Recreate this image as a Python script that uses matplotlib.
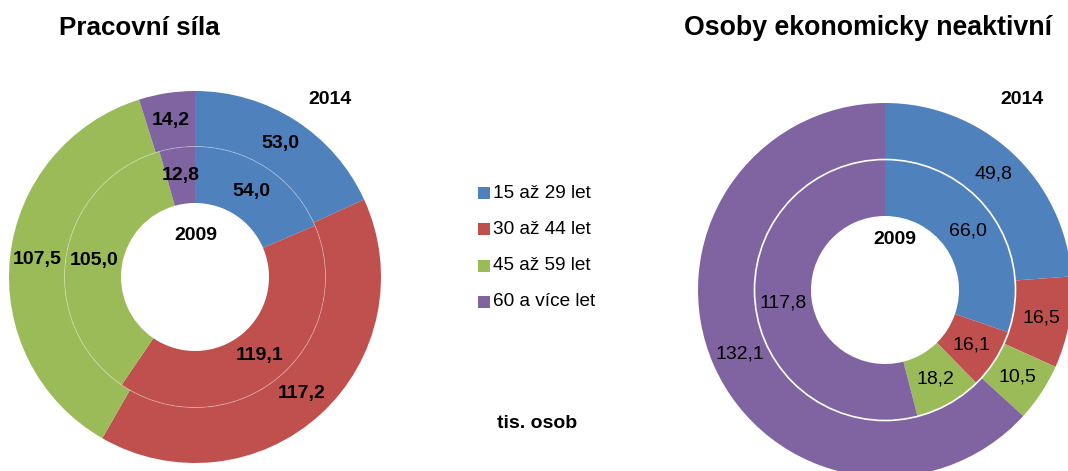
import matplotlib
matplotlib.use("Agg")
import matplotlib.pyplot as plt
from matplotlib.patches import Circle, Rectangle

plt.rcParams['font.family'] = ['Liberation Sans', 'DejaVu Sans']

categories = ["15 až 29 let", "30 až 44 let", "45 až 59 let", "60 a více let"]
colors = ["#4F81BD", "#C0504D", "#9BBB59", "#8064A2"]

labor_2009 = [54.0, 119.1, 105.0, 12.8]
labor_2014 = [53.0, 117.2, 107.5, 14.2]
inactive_2009 = [66.0, 16.1, 18.2, 117.8]
inactive_2014 = [49.8, 16.5, 10.5, 132.1]

def fmt(v):
    return f"{v:.1f}".replace(".", ",")

W, H = 1068, 471
fig = plt.figure(figsize=(W / 100, H / 100), dpi=100)
ax = fig.add_axes([0, 0, 1, 1])

R_HOLE, R_MID = 74, 130.5

def donut(ax, cx, cy, R, inner_vals, outer_vals, bold, ring_lw, ring_alpha):
    cy = H - cy
    w_out = R - R_MID
    w_in = R_MID - R_HOLE
    weight = 'bold' if bold else 'normal'
    for vals, radius, width in ((outer_vals, R, w_out), (inner_vals, R_MID, w_in)):
        labels = iter([fmt(v) for v in vals])
        mid = radius - width / 2
        ax.pie(
            vals, colors=colors, startangle=90, counterclock=False,
            radius=radius, center=(cx, cy),
            wedgeprops=dict(width=width, linewidth=0),
            autopct=lambda p: next(labels), pctdistance=mid / radius,
            textprops=dict(fontsize=14, color='black', fontweight=weight),
            frame=True)
    ax.add_patch(Circle((cx, cy), R_MID, fill=False, edgecolor='white',
                        linewidth=ring_lw, alpha=ring_alpha, zorder=5))

donut(ax, 195, 277, 186, labor_2009, labor_2014, True, 0.7, 0.3)
donut(ax, 885, 290, 187, inactive_2009, inactive_2014, False, 1.2, 1.0)

ax.set_xlim(0, W)
ax.set_ylim(0, H)
ax.set_aspect('equal')
ax.axis('off')

def T(x, y, s, **kw):
    ax.text(x, H - y, s, ha='center', va='center', **kw)

T(139, 28, "Pracovní síla", fontsize=18.7, fontweight='bold')
T(868, 28, "Osoby ekonomicky neaktivní", fontsize=19.3, fontweight='bold')
T(330, 99, "2014", fontsize=14, fontweight='bold')
T(1022, 100, "2014", fontsize=14, fontweight='bold')
T(196, 236, "2009", fontsize=14, fontweight='bold')
T(895, 240, "2009", fontsize=14, fontweight='bold')
T(537, 423, "tis. osob", fontsize=14, fontweight='bold')

leg_y = [193, 229, 266, 302]
for cat, col, y in zip(categories, colors, leg_y):
    ax.add_patch(Rectangle((478, H - y - 6), 12, 12, facecolor=col, edgecolor='none'))
    ax.text(493, H - y, cat, ha='left', va='center', fontsize=13.7)

fig.savefig("out.png", dpi=100)
